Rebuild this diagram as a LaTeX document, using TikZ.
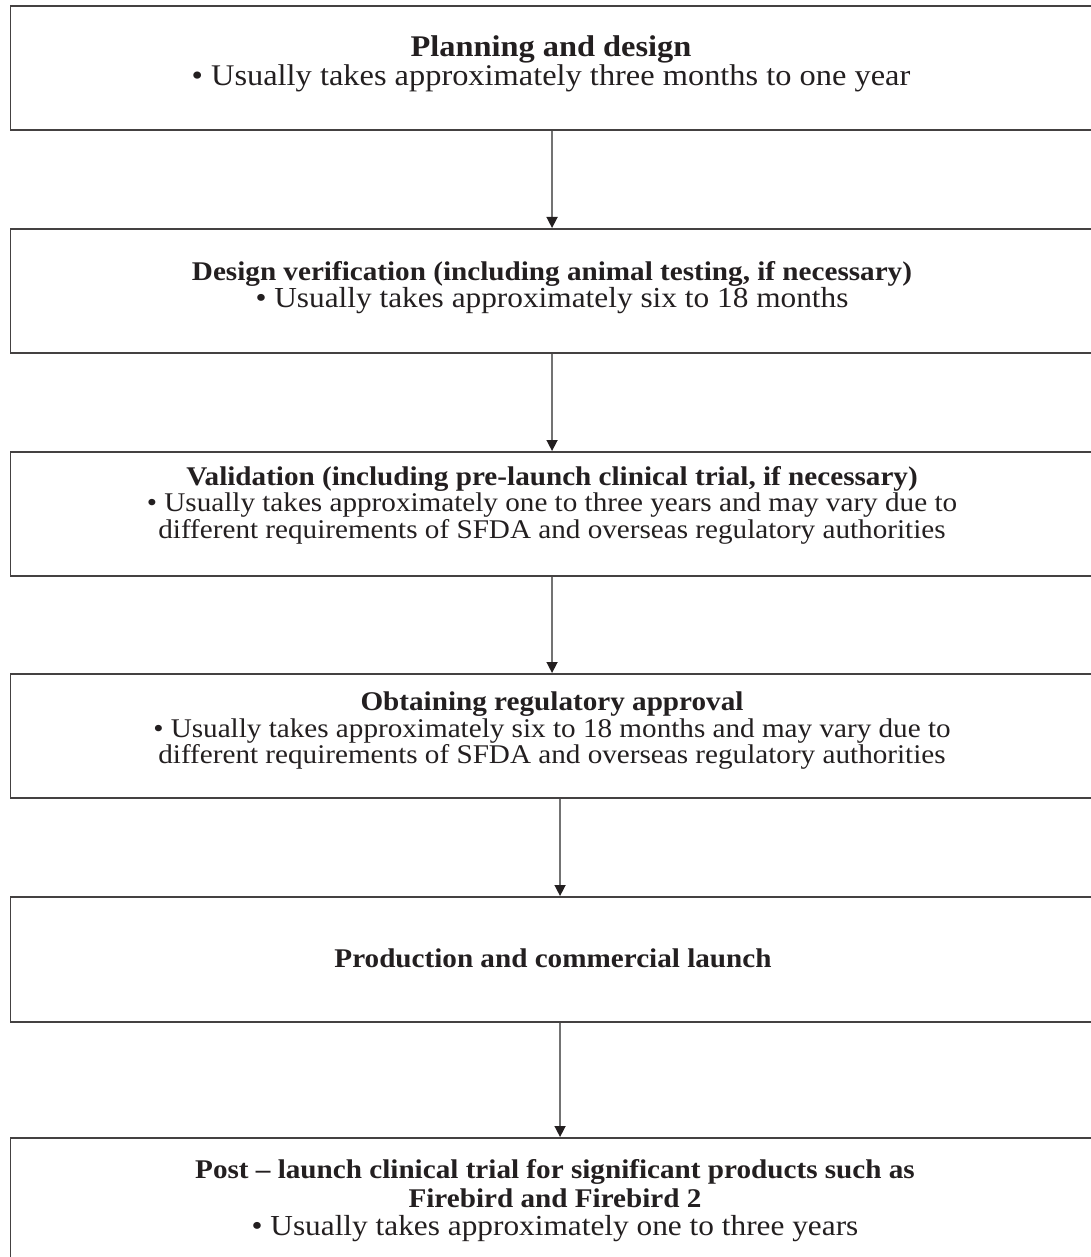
\documentclass[tikz,border=0pt]{standalone}
\usepackage{fontspec}
\setmainfont{Liberation Serif}[FakeStretch=1.08]
\usetikzlibrary{arrows.meta}
\definecolor{ink}{HTML}{231F20}
\newcommand{\biglines}{\fontsize{29}{26.5}\selectfont}
\tikzset{
  stagebox/.style={draw=ink!85, line width=1.6pt, minimum width=1083.5pt, minimum height=124pt,
    anchor=north west, inner sep=0pt},
  stagetext/.style={align=center, inner sep=0pt, text=ink,
    font=\fontsize{27}{26.5}\selectfont},
  flow/.style={draw=black!55, line width=1.5pt, -{Triangle[width=11pt,length=11pt,color=ink]}},
}
\begin{document}
\begin{tikzpicture}[x=1pt,y=-1pt]
\useasboundingbox (0,0) rectangle (1091,1257);
\clip (0,0) rectangle (1091,1257);
\fill[white] (0,0) rectangle (1091,1257);
\node[stagebox] (b1) at (9.5,5) {};
\node[stagebox] (b2) at (9.5,228) {};
\node[stagebox] (b3) at (9.5,451) {};
\node[stagebox] (b4) at (9.5,673) {};
\node[stagebox, minimum height=125pt] (b5) at (9.5,896) {};
\node[stagebox, minimum height=132pt] (b6) at (9.5,1137) {};
\node[stagetext, font=\fontsize{30}{26.5}\selectfont] (t1) at (551,64) {\textbf{Planning and design}\\ • Usually takes approximately three months to one year};
\node[stagetext] (t2) at (552,287.5) {\textbf{Design verification (including animal testing, if necessary)}\\ {\biglines • Usually takes approximately six to 18 months}};
\node[stagetext] (t3) at (552,505) {\textbf{Validation (including pre-launch clinical trial, if necessary)}\\ • Usually takes approximately one to three years and may vary due to\\ different requirements of SFDA and overseas regulatory authorities};
\node[stagetext] (t4) at (552,731) {\textbf{Obtaining regulatory approval}\\ • Usually takes approximately six to 18 months and may vary due to\\ different requirements of SFDA and overseas regulatory authorities};
\node[stagetext] (t5) at (553,958) {\textbf{Production and commercial launch}};
\node[stagetext, font=\fontsize{27}{28.5}\selectfont] (t6) at (555,1201) {\textbf{Post – launch clinical trial for significant products such as}\\ \textbf{Firebird and Firebird 2}\\ {\biglines • Usually takes approximately one to three years}};
\draw[flow] (b1.south) -- (b2.north);
\draw[flow] (b2.south) -- (b3.north);
\draw[flow] (b3.south) -- (b4.north);
\draw[flow] ([xshift=8pt]b4.south) -- ([xshift=8pt]b5.north);
\draw[flow] ([xshift=8pt]b5.south) -- ([xshift=8pt]b6.north);
\end{tikzpicture}
\end{document}
